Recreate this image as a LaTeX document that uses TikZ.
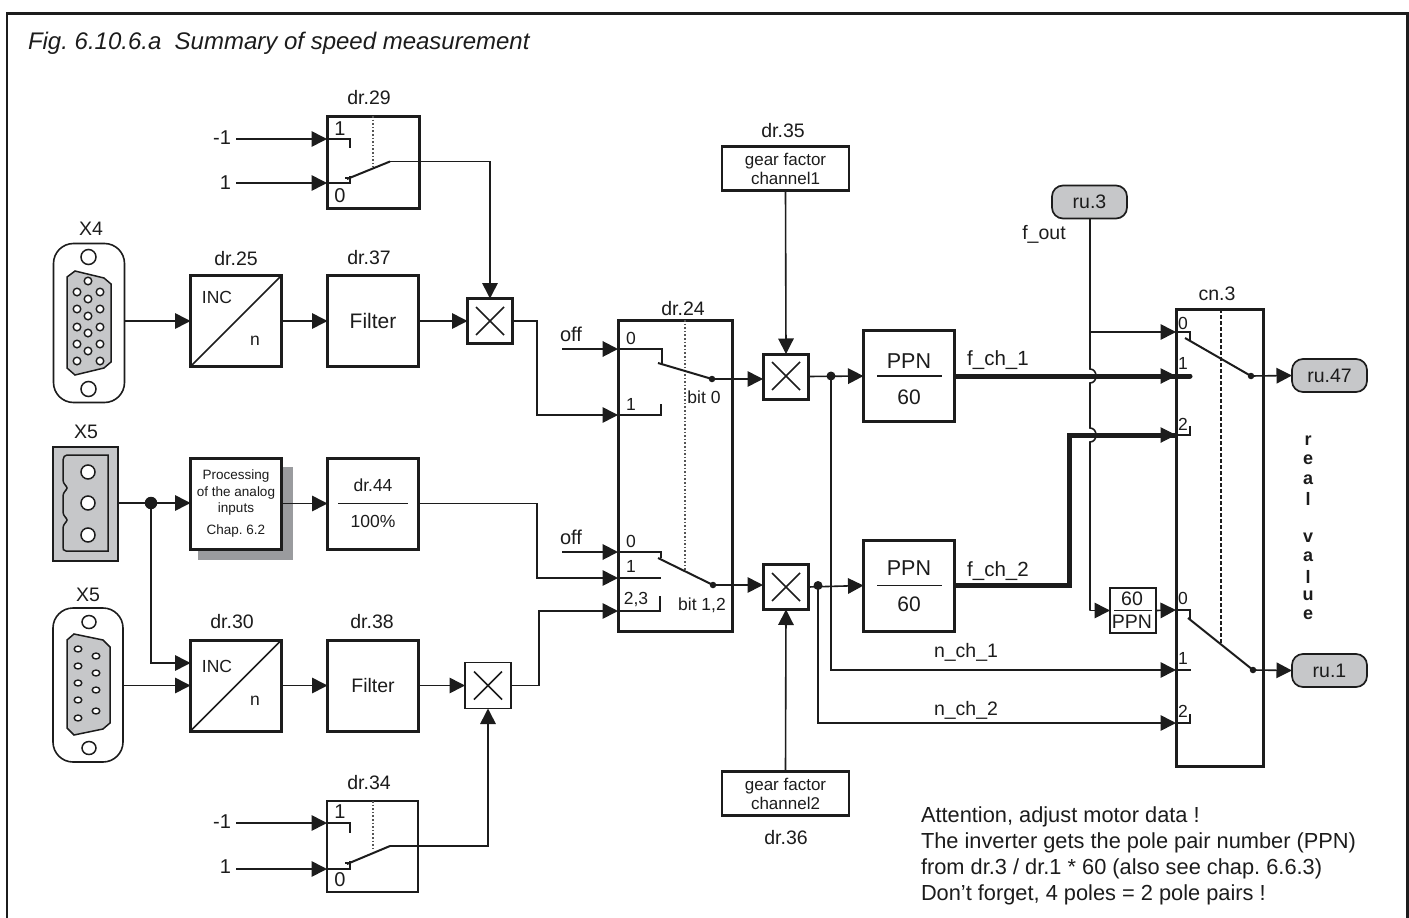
\documentclass[tikz,border=0pt]{standalone}
\usepackage{fontspec}
\setmainfont{Liberation Sans}
\usetikzlibrary{arrows.meta,calc}
\AtBeginDocument{\frenchspacing}
\definecolor{ink}{HTML}{1C1C1C}
\definecolor{gfill}{HTML}{C6C7C9}
\definecolor{shadowg}{HTML}{9A9B9E}
\tikzset{
  every node/.style={inner sep=0pt,outer sep=0pt,text=ink},
  fs20/.style={font=\fontsize{20}{23}\selectfont},
  fs19/.style={font=\fontsize{19.5}{22}\selectfont},
  fs17/.style={font=\fontsize{17.5}{20}\selectfont},
  fs16/.style={font=\fontsize{16}{19}\selectfont},
  lbl/.style={fs19},
  bigbox/.style={draw=ink,line width=3pt,fill=white,minimum width=91pt,minimum height=91pt},
  mult/.style={draw=ink,line width=3pt,fill=white,minimum width=45pt,minimum height=45pt},
  thinmult/.style={draw=ink,line width=1.2pt,fill=white,minimum width=46pt,minimum height=46pt},
  pill/.style={draw=ink,line width=1.7pt,fill=gfill,rounded corners=11pt,minimum width=75pt,minimum height=33pt,fs19},
  gearbox/.style={draw=ink,line width=2.6pt,fill=white,minimum width=127pt,minimum height=44pt,align=center,font=\fontsize{17}{19}\selectfont},
  conn/.style={draw=ink,line width=1.6pt},
  heavy/.style={draw=ink,line width=5pt},
  arr/.style={-{Triangle[length=15.5pt,width=15.5pt]}},
  dotj/.style={circle,fill=ink,minimum size=9pt},
  dotb/.style={circle,fill=ink,minimum size=12.5pt},
  dots/.style={circle,fill=ink,minimum size=6.5pt},
  hole/.style={draw=ink,line width=1.5pt,fill=white},
  pin/.style={draw=ink,line width=1.4pt,fill=white},
  shell/.style={draw=ink,line width=1.5pt,fill=gfill},
  sep/.style={draw=ink!75,line width=1.6pt,dotted},
  contact/.style={fs17},
  crossl/.style={draw=ink,line width=1.5pt},
}
\begin{document}
\begin{tikzpicture}[x=1pt,y=-1pt]
\useasboundingbox (0,0) rectangle (1409,918);
\fill[white] (0,0) rectangle (1409,918);
% frame
\draw[ink,line width=2.6pt] (7,918) -- (7,13.5) -- (1407.5,13.5) -- (1407.5,918);
\node[anchor=west,font=\itshape\fontsize{24}{28}\selectfont] (title) at (28,43) {Fig. 6.10.6.a\ \ Summary of speed measurement};

% X4 connector
\node[draw=ink,line width=1.6pt,rounded corners=20pt,minimum width=71pt,minimum height=159pt] (x4) at (89,323) {};
\node[lbl] (x4l) at (91,229) {X4};
\draw[hole] (88.5,257) circle (7.5);
\draw[hole] (88.5,389) circle (7.5);
\draw[shell] (67,277) -- (75,271) -- (104,278) -- (111,284) -- (111,362) -- (104,368) -- (75,375) -- (67,368) -- cycle;
\foreach \px/\py in {88/281,77/292,100/292,88/299,77/309,100/309,88/316,77/327,100/327,88/333,77/344,100/344,88/351,77/361,100/361}
  \draw[pin] (\px,\py) circle (3.8);

% X5 terminal
\node[draw=ink,line width=1.6pt,fill=gfill,minimum width=65pt,minimum height=114pt] (x5t) at (85.5,504) {};
\node[lbl] (x5tl) at (86,432) {X5};
\draw[draw=ink,line width=1.5pt] (108,455) -- (108,551) -- (66,551) .. controls (63,551) and (63,549) .. (63,546) -- (63,528) .. controls (63,524) and (67,522) .. (67,520) .. controls (67,518) and (63,516) .. (63,512) -- (63,496) .. controls (63,492) and (67,490) .. (67,488) .. controls (67,486) and (63,484) .. (63,480) -- (63,460) .. controls (63,457) and (65,455) .. (67,455) -- cycle;
\draw[hole] (88,472) circle (7);
\draw[hole] (88,503) circle (7);
\draw[hole] (88,535) circle (7);

% X5 sub-d
\node[draw=ink,line width=1.6pt,rounded corners=20pt,minimum width=70pt,minimum height=154pt] (x5d) at (88,685) {};
\node[lbl] (x5dl) at (88,595) {X5};
\draw[hole] (89,622) ellipse (7 and 6.5);
\draw[hole] (89,748) ellipse (7 and 6.5);
\draw[shell] (67,640) -- (74,634) -- (103,640) -- (110,647) -- (110,723) -- (103,729) -- (74,735) -- (67,728) -- cycle;
\foreach \px/\py in {78/649,78/666,78/683,78/700,78/718,96/656,96/673,96/690,96/711}
  \draw[pin] (\px,\py) ellipse (3.8 and 3);

% row 1 boxes
\node[bigbox] (dr25) at (236,321) {};
\draw[ink,line width=1.6pt] (dr25.south west) -- (dr25.north east);
\node[fs17] (inc1) at (217,297) {INC};
\node[fs17] (n1) at (255,341) {n};
\node[lbl] (dr25l) at (236,259) {dr.25};
\node[bigbox,font=\fontsize{21}{25}\selectfont] (dr37) at (373,321) {Filter};
\node[lbl] (dr37l) at (369,258) {dr.37};
\node[mult] (m1) at (490,321) {};
\draw[crossl] (476,307) -- (504,335) (476,335) -- (504,307);

% row 2 boxes
\fill[shadowg] (198,467) rectangle (292.5,559.5);
\node[bigbox,align=center,font=\fontsize{13.5}{16.5}\selectfont] (proc) at (236,503.5) {Processing\\of the analog\\inputs\\[5pt]Chap. 6.2};
\node[bigbox] (dr44) at (373,503.5) {};
\node[fs17] (dr44t) at (373,485) {dr.44};
\node[fs17] (dr44b) at (373,521) {100\%};
\draw[ink,line width=1.4pt] (338,503.5) -- (408,503.5);

% row 3 boxes
\node[bigbox] (dr30) at (236,685.5) {};
\draw[ink,line width=1.6pt] (dr30.south west) -- (dr30.north east);
\node[fs17] (inc2) at (217,666) {INC};
\node[fs17] (n2) at (255,701) {n};
\node[lbl] (dr30l) at (232,622) {dr.30};
\node[bigbox,font=\fontsize{19.5}{23}\selectfont] (dr38) at (373,685.5) {Filter};
\node[lbl] (dr38l) at (372,622) {dr.38};
\node[thinmult] (m4) at (488,685.5) {};
\draw[crossl] (474,671.5) -- (502,699.5) (474,699.5) -- (502,671.5);

% dr.29 selector
\node[draw=ink,line width=3pt,minimum width=92pt,minimum height=92pt] (dr29) at (373,162) {};
\node[lbl] (dr29l) at (369,98) {dr.29};
\draw[sep] (373,116) -- (373,167);
\node[fs20,anchor=east] (a1) at (231,138) {-1};
\node[fs20,anchor=east] (a2) at (231,183) {1};
\coordinate (a1in) at (327,139);
\coordinate (a2in) at (327,183);
\draw[conn,arr] ([xshift=5pt]a1.east |- a1in) -- (a1in);
\draw[conn,arr] ([xshift=5pt]a2.east |- a2in) -- (a2in);
\draw[conn,line width=2pt] (a1in) -- (350,139) -- (350,148);
\draw[conn,line width=2pt] (a2in) -- (350,183) -- (350,176);
\draw[conn,line width=1.2pt] (345,178) -- (351,178);
\coordinate (w29) at (390,161.5);
\draw[conn,line width=2pt] (347,179) -- (w29);
\draw[conn,arr] (w29) -- (w29 -| m1.north) -- (m1.north);
\node[fs20] (s29a) at (340,129) {1};
\node[fs20] (s29b) at (340,196) {0};

% dr.34 selector
\node[draw=ink,line width=1.3pt,minimum width=91pt,minimum height=91pt] (dr34) at (372.5,846.5) {};
\node[lbl] (dr34l) at (369,783) {dr.34};
\draw[sep] (373,801) -- (373,851);
\node[fs20,anchor=east] (b1) at (231,822) {-1};
\node[fs20,anchor=east] (b2) at (231,867) {1};
\coordinate (b1in) at (327,823);
\coordinate (b2in) at (327,869);
\draw[conn,arr] ([xshift=5pt]b1.east |- b1in) -- (b1in);
\draw[conn,arr] ([xshift=5pt]b2.east |- b2in) -- (b2in);
\draw[conn,line width=2pt] (b1in) -- (350,823) -- (350,833);
\draw[conn,line width=2pt] (b2in) -- (350,869) -- (350,861);
\draw[conn,line width=1.2pt] (345,863) -- (351,863);
\coordinate (w34) at (390,846);
\draw[conn,line width=2pt] (347,864) -- (w34);
\draw[conn,arr] (w34) -- (w34 -| m4.south) -- (m4.south);
\node[fs20] (s34a) at (340,812) {1};
\node[fs20] (s34b) at (340,880) {0};

% dr.24 selector
\node[draw=ink,line width=3pt,minimum width=114pt,minimum height=311pt] (dr24) at (675,475.5) {};
\node[lbl] (dr24l) at (683,309) {dr.24};
\draw[sep] (685,320) -- (685,570);
\node[fs20] (off1) at (571,334) {off};
\node[fs20] (off2) at (571,537) {off};
\coordinate (p0) at (618,349);
\coordinate (p1) at (618,415);
\coordinate (q0) at (618,552);
\coordinate (q1) at (618,578);
\coordinate (q2) at (618,611);
\coordinate (offa) at (562,349);
\coordinate (offb) at (562,552);
\draw[conn,line width=2pt,arr] (offa) -- (p0);
\draw[conn,line width=2pt,arr] (offb) -- (q0);
\draw[conn,arr] (m1.east) -- (537,321) -- (537,415) -- (p1);
\draw[conn,arr] (dr44.east) -- (537,503.5) -- (537,578) -- (q1);
\draw[conn,arr] (m4.east) -- (539,685.5) -- (539,611) -- (q2);
\draw[conn] (p0) -- (662,349) -- (662,364);
\draw[conn] (p1) -- (661,415) -- (661,404);
\draw[conn] (q0) -- (661,552) -- (661,558);
\draw[conn] (q1) -- (661,578);
\draw[conn,line width=2pt] (q2) -- (660,611) -- (660,596);
\node[dots] (w1) at (712,379) {};
\node[dots] (w2) at (713,585) {};
\draw[conn,line width=2pt] (658,363) -- (w1.center);
\draw[conn,line width=2pt] (658,558) -- (w2.center);
\node[fs17] (c0) at (631,338) {0};
\node[fs17] (c1) at (631,404) {1};
\node[fs17] (d0) at (631,541) {0};
\node[fs17] (d1) at (631,566) {1};
\node[fs17] (d2) at (636,600) {2,3};
\node[fs17] (bit0) at (704,397) {bit 0};
\node[fs17] (bit12) at (702,605) {bit 1,2};

% multipliers middle
\node[mult] (m2) at (786,376.5) {};
\draw[crossl] (772,362) -- (800,390) (772,390) -- (800,362);
\node[mult] (m3) at (786,587) {};
\draw[crossl] (772,573) -- (800,601) (772,601) -- (800,573);
\coordinate (m2in) at (763,379);
\coordinate (m3in) at (763,585);
\draw[conn,arr] (w1.center) -- (m2in);
\draw[conn,arr] (w2.center) -- (m3in);

% gear boxes
\node[gearbox] (g1) at (785.5,168.5) {gear factor\\channel1};
\node[lbl] (dr35l) at (783,131) {dr.35};
\node[gearbox] (g2) at (785.5,793.5) {gear factor\\channel2};
\node[lbl] (dr36l) at (786,838) {dr.36};
\draw[conn,arr] (g1.south) -- (m2.north);
\draw[conn,arr] (g2.north) -- (m3.south);

% PPN boxes
\node[bigbox] (ppn1) at (909,376) {};
\draw[ink,line width=1.5pt] (877,376) -- (942,376);
\node[font=\fontsize{21.5}{24}\selectfont] (ppn1a) at (909,361) {PPN};
\node[font=\fontsize{21}{24}\selectfont] (ppn1b) at (909,397) {60};
\node[bigbox] (ppn2) at (909,585.5) {};
\draw[ink,line width=1.5pt] (877,585.5) -- (942,585.5);
\node[font=\fontsize{21.5}{24}\selectfont] (ppn2a) at (909,568) {PPN};
\node[font=\fontsize{21}{24}\selectfont] (ppn2b) at (909,604) {60};
\node[dotj] (j2) at (831,376) {};
\node[dotj] (j3) at (818,585.5) {};
\draw[conn,arr] (m2.east) -- (ppn1.west);
\draw[conn,arr] (m3.east) -- (ppn2.west);
\node[font=\fontsize{20.5}{24}\selectfont] (fch1) at (998,360) {f\_ch\_1};
\node[font=\fontsize{20.5}{24}\selectfont] (fch2) at (998,571) {f\_ch\_2};

% cn.3 selector
\node[draw=ink,line width=3pt,minimum width=87pt,minimum height=457pt] (cn3) at (1219.5,537.5) {};
\node[lbl] (cn3l) at (1217,294) {cn.3};
\draw[ink,line width=1.8pt,dash pattern=on 4pt off 2pt] (1221,309) -- (1221,643);
\coordinate (r0) at (1176,332);
\coordinate (r1) at (1176,376);
\coordinate (r2) at (1176,435);
\coordinate (t0) at (1176,610);
\coordinate (t1) at (1176,670);
\coordinate (t2) at (1176,723);

% ru.3 and vertical with jumps
\node[pill] (ru3) at (1089.5,202) {ru.3};
\node[fs19] (fout) at (1044,234) {f\_out};
\node[draw=ink,line width=1.7pt,minimum width=46pt,minimum height=45pt,fill=white] (k) at (1133,610.5) {};
\node[lbl] (k60) at (1132,599) {60};
\node[lbl] (kp) at (1132,622) {PPN};
\draw[ink,line width=1.5pt] (1114,610.5) -- (1152,610.5);
\coordinate (jv) at (1090,332);
% heavy lines
\coordinate (hc) at (1069,435);
\draw[heavy] (ppn1.east) -- (1176,376);
\draw[heavy,line cap=round] (1176,376) -- (1190,376);
\draw[heavy,line join=miter] (ppn2.east) -- (hc |- ppn2.east) -- (hc) -- (r2);
% vertical with jumps
\draw[conn] (ru3.south -| jv) -- (1090,369) .. controls (1098,369) and (1098,383) .. (1090,383) -- (1090,428) .. controls (1098,428) and (1098,442) .. (1090,442) -- (1090,610.5);
\draw[conn,arr] (1090,610.5) -- (k.west);
\draw[conn,arr] (jv) -- (r0);
\draw[ink,arrows={-{Triangle[length=15.5pt,width=15.5pt]}},line width=1pt] (1150,376) -- (r1);
\draw[ink,arrows={-{Triangle[length=15.5pt,width=15.5pt]}},line width=1pt] (1150,435) -- (r2);
\draw[conn,arr] (k.east) -- (t0);
% n_ch lines
\draw[conn,arr] (j2.center) -- (831,670) -- (t1);
\draw[conn,arr] (j3.center) -- (818,723) -- (t2);
\node[lbl] (nch1) at (966,652) {n\_ch\_1};
\node[lbl] (nch2) at (966,710) {n\_ch\_2};
% contacts
\draw[conn] (r0) -- (1190,332) -- (1190,341);
\draw[conn] (r2) -- (1190,435) -- (1190,426);
\draw[conn] (t0) -- (1190,610) -- (1190,619);
\draw[conn] (t1) -- (1191,670);
\draw[conn] (t2) -- (1190,723) -- (1190,714);
\node[dots] (w3) at (1251,376) {};
\node[dots] (w4) at (1253,670) {};
\draw[conn,line width=2pt] (1185,338) -- (w3.center);
\draw[conn,line width=2pt] (1188,618) -- (w4.center);
\node[pill] (ru47) at (1329.5,375.5) {ru.47};
\node[pill] (ru1) at (1329.5,670.5) {ru.1};
\draw[conn,arr] (w3.center) -- (ru47.west);
\draw[conn,arr] (w4.center) -- (ru1.west);
\node[fs17] (e0) at (1183,323) {0};
\node[fs17] (e1) at (1183,363) {1};
\node[fs17] (e2) at (1183,424) {2};
\node[fs17] (f0) at (1183,598) {0};
\node[fs17] (f1) at (1183,658) {1};
\node[fs17] (f2) at (1183,711) {2};

% junction
\node[dotb] (j1) at (151,503) {};

% left connectors
\draw[conn,arr] (x4.east |- dr25.west) -- (dr25.west);
\draw[conn,arr] (dr25.east) -- (dr37.west);
\draw[conn,arr] (dr37.east) -- (m1.west);
\draw[conn,arr] (x5t.east |- j1) -- (proc.west |- j1);
\draw[conn,arr] (proc.east) -- (dr44.west);
\coordinate (in30a) at (190.5,663);
\coordinate (in30b) at (190.5,685.5);
\draw[conn,arr] (j1.center) -- (j1.center |- in30a) -- (in30a);
\draw[conn,arr] (x5d.east |- in30b) -- (in30b);
\draw[conn,arr] (dr30.east) -- (dr38.west);
\draw[conn,arr] (dr38.east) -- (m4.west);

% real value
\foreach \ch/\yy in {r/441,e/460,a/480,l/499,v/538,a/557,l/577,u/596,e/615}
  \node[font=\bfseries\fontsize{18}{20}\selectfont] at (1308,\yy) {\ch};

% note
\node[anchor=north west,align=left,font=\fontsize{21.8}{26}\selectfont] (note) at (921,807) {Attention, adjust motor data !\\The inverter gets the pole pair number (PPN)\\from dr.3 / dr.1 * 60 (also see chap. 6.6.3)\\Don’t forget, 4 poles = 2 pole pairs !};
\end{tikzpicture}
\end{document}
